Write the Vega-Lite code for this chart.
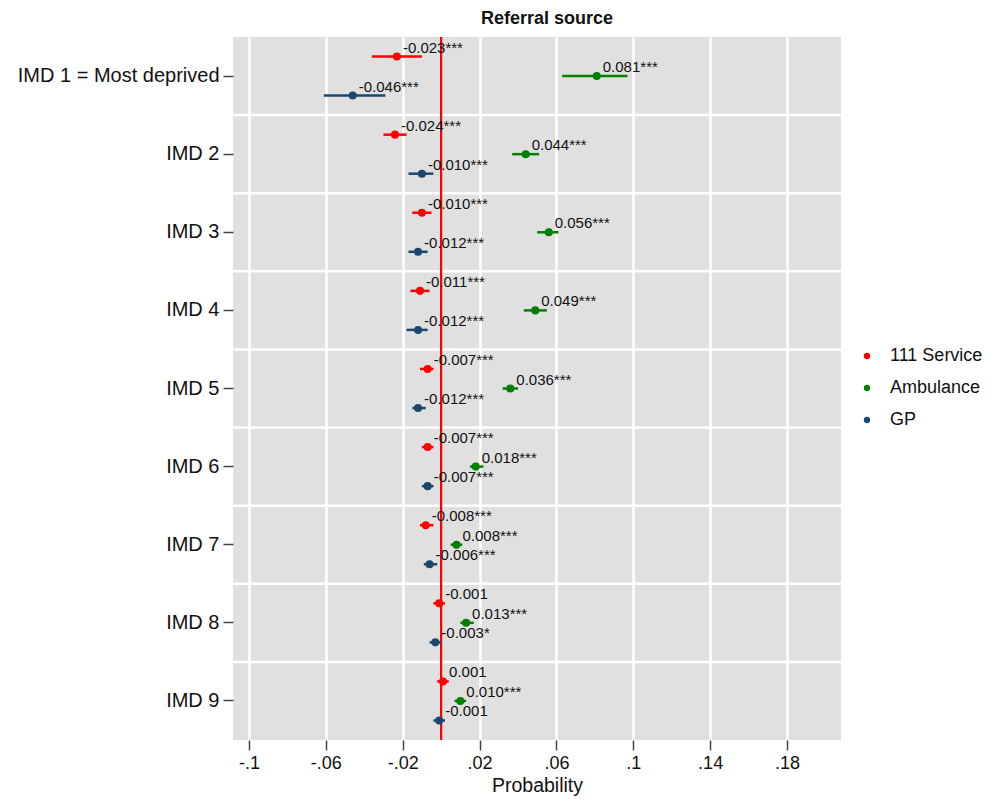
{
  "$schema": "https://vega.github.io/schema/vega-lite/v6.json",
  "width": 608,
  "height": 703,
  "autosize": {"type": "none"},
  "padding": {"left": 233, "top": 37, "right": 155, "bottom": 68},
  "background": "white",
  "config": {
    "font": "Liberation Sans",
    "view": {"fill": "#e0e0e0", "stroke": null}
  },
  "title": {"text": "Referral source", "fontSize": 18, "fontWeight": "bold", "anchor": "middle", "offset": 8, "dx": 10, "color": "#111"},
  "data": {
    "values": [
      {"imd": "IMD 1 = Most deprived", "source": "111 Service", "est": -0.023, "lo": -0.036, "hi": -0.010, "label": "-0.023***"},
      {"imd": "IMD 1 = Most deprived", "source": "Ambulance", "est": 0.081, "lo": 0.063, "hi": 0.097, "label": "0.081***"},
      {"imd": "IMD 1 = Most deprived", "source": "GP", "est": -0.046, "lo": -0.061, "hi": -0.029, "label": "-0.046***"},
      {"imd": "IMD 2", "source": "111 Service", "est": -0.024, "lo": -0.030, "hi": -0.018, "label": "-0.024***"},
      {"imd": "IMD 2", "source": "Ambulance", "est": 0.044, "lo": 0.037, "hi": 0.051, "label": "0.044***"},
      {"imd": "IMD 2", "source": "GP", "est": -0.010, "lo": -0.017, "hi": -0.004, "label": "-0.010***"},
      {"imd": "IMD 3", "source": "111 Service", "est": -0.010, "lo": -0.015, "hi": -0.005, "label": "-0.010***"},
      {"imd": "IMD 3", "source": "Ambulance", "est": 0.056, "lo": 0.050, "hi": 0.061, "label": "0.056***"},
      {"imd": "IMD 3", "source": "GP", "est": -0.012, "lo": -0.017, "hi": -0.007, "label": "-0.012***"},
      {"imd": "IMD 4", "source": "111 Service", "est": -0.011, "lo": -0.016, "hi": -0.006, "label": "-0.011***"},
      {"imd": "IMD 4", "source": "Ambulance", "est": 0.049, "lo": 0.043, "hi": 0.055, "label": "0.049***"},
      {"imd": "IMD 4", "source": "GP", "est": -0.012, "lo": -0.018, "hi": -0.007, "label": "-0.012***"},
      {"imd": "IMD 5", "source": "111 Service", "est": -0.007, "lo": -0.011, "hi": -0.004, "label": "-0.007***"},
      {"imd": "IMD 5", "source": "Ambulance", "est": 0.036, "lo": 0.032, "hi": 0.040, "label": "0.036***"},
      {"imd": "IMD 5", "source": "GP", "est": -0.012, "lo": -0.015, "hi": -0.008, "label": "-0.012***"},
      {"imd": "IMD 6", "source": "111 Service", "est": -0.007, "lo": -0.010, "hi": -0.004, "label": "-0.007***"},
      {"imd": "IMD 6", "source": "Ambulance", "est": 0.018, "lo": 0.015, "hi": 0.022, "label": "0.018***"},
      {"imd": "IMD 6", "source": "GP", "est": -0.007, "lo": -0.010, "hi": -0.004, "label": "-0.007***"},
      {"imd": "IMD 7", "source": "111 Service", "est": -0.008, "lo": -0.011, "hi": -0.004, "label": "-0.008***"},
      {"imd": "IMD 7", "source": "Ambulance", "est": 0.008, "lo": 0.005, "hi": 0.011, "label": "0.008***"},
      {"imd": "IMD 7", "source": "GP", "est": -0.006, "lo": -0.009, "hi": -0.002, "label": "-0.006***"},
      {"imd": "IMD 8", "source": "111 Service", "est": -0.001, "lo": -0.004, "hi": 0.002, "label": "-0.001"},
      {"imd": "IMD 8", "source": "Ambulance", "est": 0.013, "lo": 0.010, "hi": 0.017, "label": "0.013***"},
      {"imd": "IMD 8", "source": "GP", "est": -0.003, "lo": -0.006, "hi": 0.000, "label": "-0.003*"},
      {"imd": "IMD 9", "source": "111 Service", "est": 0.001, "lo": -0.002, "hi": 0.004, "label": "0.001"},
      {"imd": "IMD 9", "source": "Ambulance", "est": 0.010, "lo": 0.007, "hi": 0.013, "label": "0.010***"},
      {"imd": "IMD 9", "source": "GP", "est": -0.001, "lo": -0.004, "hi": 0.002, "label": "-0.001"}
    ]
  },
  "layer": [
    {
      "transform": [{"filter": "datum.source === 'Ambulance' && datum.imd !== 'IMD 1 = Most deprived'"}],
      "mark": {"type": "rule", "color": "white", "strokeWidth": 2.5},
      "encoding": {
        "y": {
          "field": "imd",
          "type": "nominal",
          "bandPosition": 0,
          "sort": ["IMD 1 = Most deprived", "IMD 2", "IMD 3", "IMD 4", "IMD 5", "IMD 6", "IMD 7", "IMD 8", "IMD 9"],
          "scale": {"domain": ["IMD 1 = Most deprived", "IMD 2", "IMD 3", "IMD 4", "IMD 5", "IMD 6", "IMD 7", "IMD 8", "IMD 9"], "paddingInner": 0, "paddingOuter": 0},
          "axis": {"title": null, "grid": false, "domain": false, "tickSize": 10, "tickWidth": 1.5, "tickColor": "#444", "labelFontSize": 20, "labelColor": "#111", "labelPadding": 4, "labelLimit": 0}
        }
      }
    },
    {
      "mark": {"type": "rule", "color": "#ff0000", "strokeWidth": 1.8},
      "encoding": {
        "x": {
          "datum": 0,
          "type": "quantitative",
          "scale": {"domain": [-0.1083, 0.2081], "nice": false, "zero": false},
          "axis": {"title": "Probability", "values": [-0.1, -0.06, -0.02, 0.02, 0.06, 0.1, 0.14, 0.18], "labelExpr": "replace(toString(datum.value), '0.', '.')", "grid": true, "gridColor": "white", "gridWidth": 2.5, "gridOpacity": 1, "domain": false, "tickSize": 10, "tickWidth": 1.5, "tickColor": "#444", "labelFontSize": 18, "labelColor": "#111", "labelPadding": 4, "titleFontSize": 19.5, "titleFontWeight": "normal", "titleColor": "#111", "titlePadding": 4}
        }
      }
    },
    {
      "mark": {"type": "rule", "strokeWidth": 2.5},
      "encoding": {
        "y": {"field": "imd", "type": "nominal"},
        "yOffset": {"field": "source", "type": "nominal", "scale": {"paddingInner": 0, "paddingOuter": 0.5}},
        "x": {"field": "lo", "type": "quantitative"},
        "x2": {"field": "hi"},
        "color": {
          "field": "source",
          "type": "nominal",
          "scale": {"domain": ["111 Service", "Ambulance", "GP"], "range": ["#ff0000", "#008000", "#1a476f"]},
          "legend": {"title": null, "orient": "none", "legendX": 625, "legendY": 310, "symbolType": "circle", "symbolSize": 40, "labelFontSize": 18, "labelColor": "#111", "rowPadding": 14, "labelOffset": 14, "symbolStrokeWidth": 0}
        }
      }
    },
    {
      "mark": {"type": "circle", "size": 65, "opacity": 1},
      "encoding": {
        "y": {"field": "imd", "type": "nominal"},
        "yOffset": {"field": "source", "type": "nominal"},
        "x": {"field": "est", "type": "quantitative"},
        "color": {"field": "source", "type": "nominal"}
      }
    },
    {
      "mark": {"type": "text", "align": "left", "baseline": "middle", "dx": 6, "dy": -9, "fontSize": 15, "color": "#111"},
      "encoding": {
        "y": {"field": "imd", "type": "nominal"},
        "yOffset": {"field": "source", "type": "nominal"},
        "x": {"field": "est", "type": "quantitative"},
        "text": {"field": "label"}
      }
    }
  ]
}
